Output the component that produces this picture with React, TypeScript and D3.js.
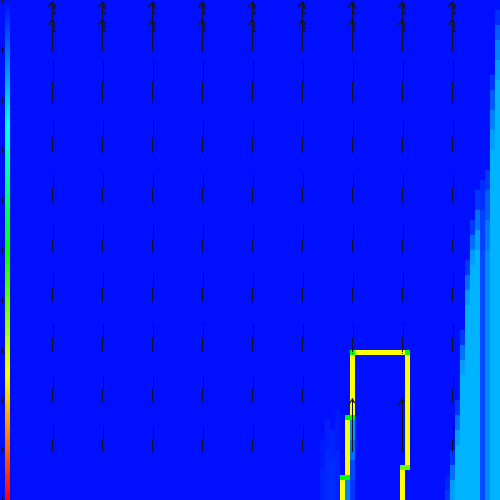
import React from "react";
import * as d3 from "d3";

// ---- colour scale (value 0..1) ----
const cmapStops = [0, 0.25, 0.5, 0.75, 1];
const cmapColors = ["#0010ff", "#00ffff", "#00ff00", "#ffff00", "#ff0000"];

// ---- heat field: per column, steps [rowStart, value]; value holds until next step ----
const fieldSteps: Record<number, [number, number][]> = {
  64: [[88, 0.01], [94, 0.02]],
  65: [[84, 0.015], [90, 0.025]],
  66: [[86, 0.02], [92, 0.03]],
  67: [[82, 0.01], [90, 0.02]],
  69: [[96, 0.12]],
  70: [[84, 0.14], [88, 0.1], [92, 0.06], [96, 0.04]],
  89: [[95, 0.02], [98, 0.04]],
  90: [[90, 0.04], [93, 0.1], [96, 0.15]],
  91: [[80, 0.04], [83, 0.1], [86, 0.15], [89, 0.17]],
  92: [[66, 0.04], [69, 0.1], [72, 0.15], [75, 0.17]],
  93: [[52, 0.04], [55, 0.1], [58, 0.15], [61, 0.17]],
  94: [[44, 0.04], [47, 0.1], [50, 0.15], [53, 0.17]],
  95: [[38, 0.04], [42, 0.1], [46, 0.15], [50, 0.17]],
  96: [[36, 0.03], [42, 0.05], [50, 0.06]],
  97: [[34, 0.04], [38, 0.08], [44, 0.11], [50, 0.13]],
  98: [[15, 0.04], [18, 0.08], [22, 0.12], [26, 0.15], [30, 0.17]],
  99: [[2, 0.03], [5, 0.08], [8, 0.12], [12, 0.15], [16, 0.17]],
};

// ---- contour cells: [col, rowStart, rowEnd(exclusive), value] ----
const contourCells: [number, number, number, number][] = [
  [68, 96, 100, 0.75],
  [68, 95, 96, 0.5],
  [69, 95, 96, 0.5],
  [69, 84, 95, 0.75],
  [69, 83, 84, 0.5],
  [70, 83, 84, 0.5],
  [70, 71, 83, 0.75],
  [70, 70, 71, 0.5],
  [71, 70, 71, 0.75],
  [72, 70, 71, 0.75],
  [73, 70, 71, 0.75],
  [74, 70, 71, 0.75],
  [75, 70, 71, 0.75],
  [76, 70, 71, 0.75],
  [77, 70, 71, 0.75],
  [78, 70, 71, 0.75],
  [79, 70, 71, 0.75],
  [80, 70, 71, 0.75],
  [81, 70, 71, 0.5],
  [81, 71, 93, 0.75],
  [80, 93, 94, 0.6],
  [81, 93, 94, 0.6],
  [80, 94, 100, 0.75],
];

// ---- quiver ----
const quiverCols = [1, 2, 3, 4, 5, 6, 7, 8, 9];
const quiverRows = [1, 2, 3, 4, 5, 6, 7, 8, 9];
// arrow lengths (px) by row then column
const quiverLen: number[][] = [
  [50, 50, 50, 50, 50, 50, 50, 50, 50],
  [41, 41, 41, 41, 41, 41, 41, 41, 41],
  [31, 31, 31, 31, 31, 31, 31, 31, 31],
  [28, 28, 28, 28, 28, 28, 28, 28, 28],
  [27, 27, 27, 27, 27, 27, 27, 27, 27],
  [30, 30, 30, 30, 30, 30, 30, 30, 30],
  [29, 29, 29, 29, 29, 29, 29, 29, 29],
  [27, 27, 27, 27, 27, 27, 0, 0, 27],
  [26, 26, 26, 26, 26, 26, 53, 53, 26],
];
const headOffsetsTop = [0, 18];
const barbOffsetsTop = [4, 9, 23, 27];

// ---- colour bar ticks ----
const cbarTicks = [0, 0.1, 0.2, 0.3, 0.4, 0.5, 0.6, 0.7, 0.8, 0.9, 1.0];

const W = 500;
const H = 500;
const N = 100;
const INK = "#141418";

export default function App() {
  const color = d3.scaleLinear<string>().domain(cmapStops).range(cmapColors).interpolate(d3.interpolateRgb);
  const cx = d3.scaleLinear().domain([0, N]).range([0, W]);
  const cy = d3.scaleLinear().domain([0, N]).range([0, H]);
  const qx = d3.scaleLinear().domain([0, 10]).range([3, 503]);
  const qy = d3.scaleLinear().domain([0, 10]).range([2, 502]);
  const cbY = d3.scaleLinear().domain([0, 1]).range([0, H]);

  const fieldRects: JSX.Element[] = [];
  Object.entries(fieldSteps).forEach(([colStr, steps]) => {
    const col = +colStr;
    steps.forEach(([r0, v], i) => {
      const r1 = i + 1 < steps.length ? steps[i + 1][0] : N;
      fieldRects.push(
        <rect key={`f${col}-${r0}`} x={cx(col)} y={cy(r0)} width={cx(1) - cx(0)} height={cy(r1) - cy(r0)} fill={color(v)} />
      );
    });
  });

  const contourRects = contourCells.map(([c, r0, r1, v], i) => (
    <rect key={`c${i}`} x={cx(c)} y={cy(r0)} width={cx(1) - cx(0)} height={cy(r1) - cy(r0)} fill={color(v)} />
  ));

  const cbCells = d3.range(N).map((i) => (
    <rect key={`cb${i}`} x={5} y={cbY(i / N)} width={5} height={cbY(1 / N)} fill={color(i / (N - 1))} />
  ));

  const shafts: JSX.Element[] = [];
  const heads: JSX.Element[] = [];
  quiverRows.forEach((r, ri) => {
    quiverCols.forEach((c, ci) => {
      const L = quiverLen[ri][ci];
      if (!L) return;
      const x = Math.round(qx(c)) - 0.5;
      const y = qy(r);
      const key = `a${r}-${c}`;
      if (L >= 45) {
        const top = y - L;
        shafts.push(<line key={key} x1={x} x2={x} y1={y} y2={top} stroke={INK} strokeWidth={1} />);
        let d = "";
        if (ri === 0) {
          headOffsetsTop.forEach((o) => {
            const hy = top + o;
            d += ` M${x - 4},${hy + 5} L${x},${hy} L${x + 3},${hy + 5}`;
          });
          barbOffsetsTop.forEach((o) => {
            const hy = top + o;
            d += ` M${x},${hy} L${x + 3},${hy + 3}`;
          });
        } else {
          d = `M${x - 4},${top + 6} L${x},${top} L${x + 2},${top + 4}`;
        }
        heads.push(<path key={key + "h"} d={d} fill="none" stroke={INK} strokeWidth={1.3} />);
      } else {
        const upper = Math.round(L * 0.5);
        const lowerTop = y - (L - upper);
        shafts.push(
          <g key={key}>
            <line x1={x} x2={x} y1={y} y2={lowerTop} stroke={INK} strokeWidth={1} />
            <line x1={x + 1} x2={x + 1} y1={lowerTop} y2={y - L} stroke={INK} strokeWidth={1} />
            <line x1={x - 1} x2={x} y1={y + 1} y2={y + 1} stroke={INK} strokeWidth={1} />
          </g>
        );
      }
    });
  });

  const ticks = cbarTicks.map((t, i) => (
    <line key={`t${i}`} x1={2.5} x2={2.5} y1={cbY(t) - 3} y2={cbY(t) + 3} stroke={INK} strokeWidth={1} />
  ));

  return (
    <svg
      width={W}
      height={H}
      style={{ position: "fixed", left: 0, top: 0, display: "block" }}
      shapeRendering="crispEdges"
    >
      <rect x={0} y={0} width={W} height={H} fill={color(0)} />
      {fieldRects}
      {contourRects}
      {cbCells}
      <g>{shafts}</g>
      <g shapeRendering="auto">{heads}</g>
      {ticks}
    </svg>
  );
}
